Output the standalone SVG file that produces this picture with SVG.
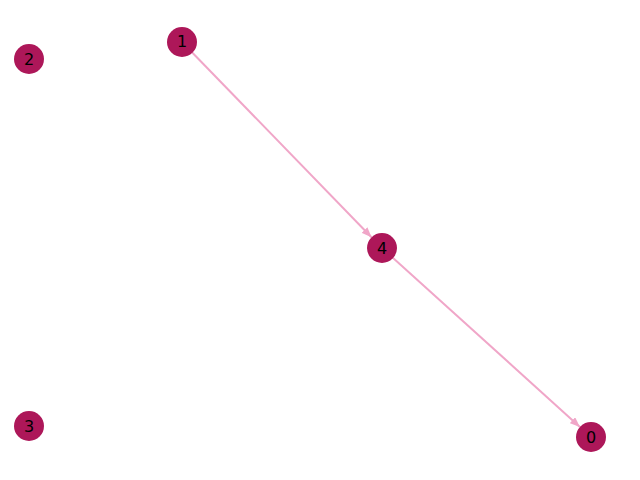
<svg xmlns="http://www.w3.org/2000/svg" width="640" height="480" viewBox="0 0 640 480">
<style>
.node circle{fill:#ad1759;}
.node text{font-family:"DejaVu Sans",sans-serif;font-size:16px;fill:#000;text-anchor:middle;dominant-baseline:central;}
.edge{stroke:#f0a6c8;stroke-width:2;fill:none;}
</style>
<defs>
<marker id="arr" viewBox="0 0 10 8" refX="10" refY="4" markerWidth="10" markerHeight="8" markerUnits="userSpaceOnUse" orient="auto">
<path d="M0,0 L10,4 L0,8 Z" fill="#f0a6c8"/>
</marker>
</defs>
<rect width="640" height="480" fill="#fff"/>
<g id="connectors">
<line class="edge" x1="182" y1="42" x2="371.5" y2="237.2" marker-end="url(#arr)"/>
<line class="edge" x1="382" y1="248" x2="579.9" y2="426.9" marker-end="url(#arr)"/>
</g>
<g id="node0" class="node"><circle cx="591" cy="437" r="15"/><text x="591" y="437">0</text></g>
<g id="node1" class="node"><circle cx="182" cy="42" r="15"/><text x="182" y="41">1</text></g>
<g id="node2" class="node"><circle cx="29" cy="59" r="15"/><text x="29" y="59">2</text></g>
<g id="node3" class="node"><circle cx="29" cy="426" r="15"/><text x="29" y="426">3</text></g>
<g id="node4" class="node"><circle cx="382" cy="248" r="15"/><text x="382" y="248">4</text></g>
</svg>
